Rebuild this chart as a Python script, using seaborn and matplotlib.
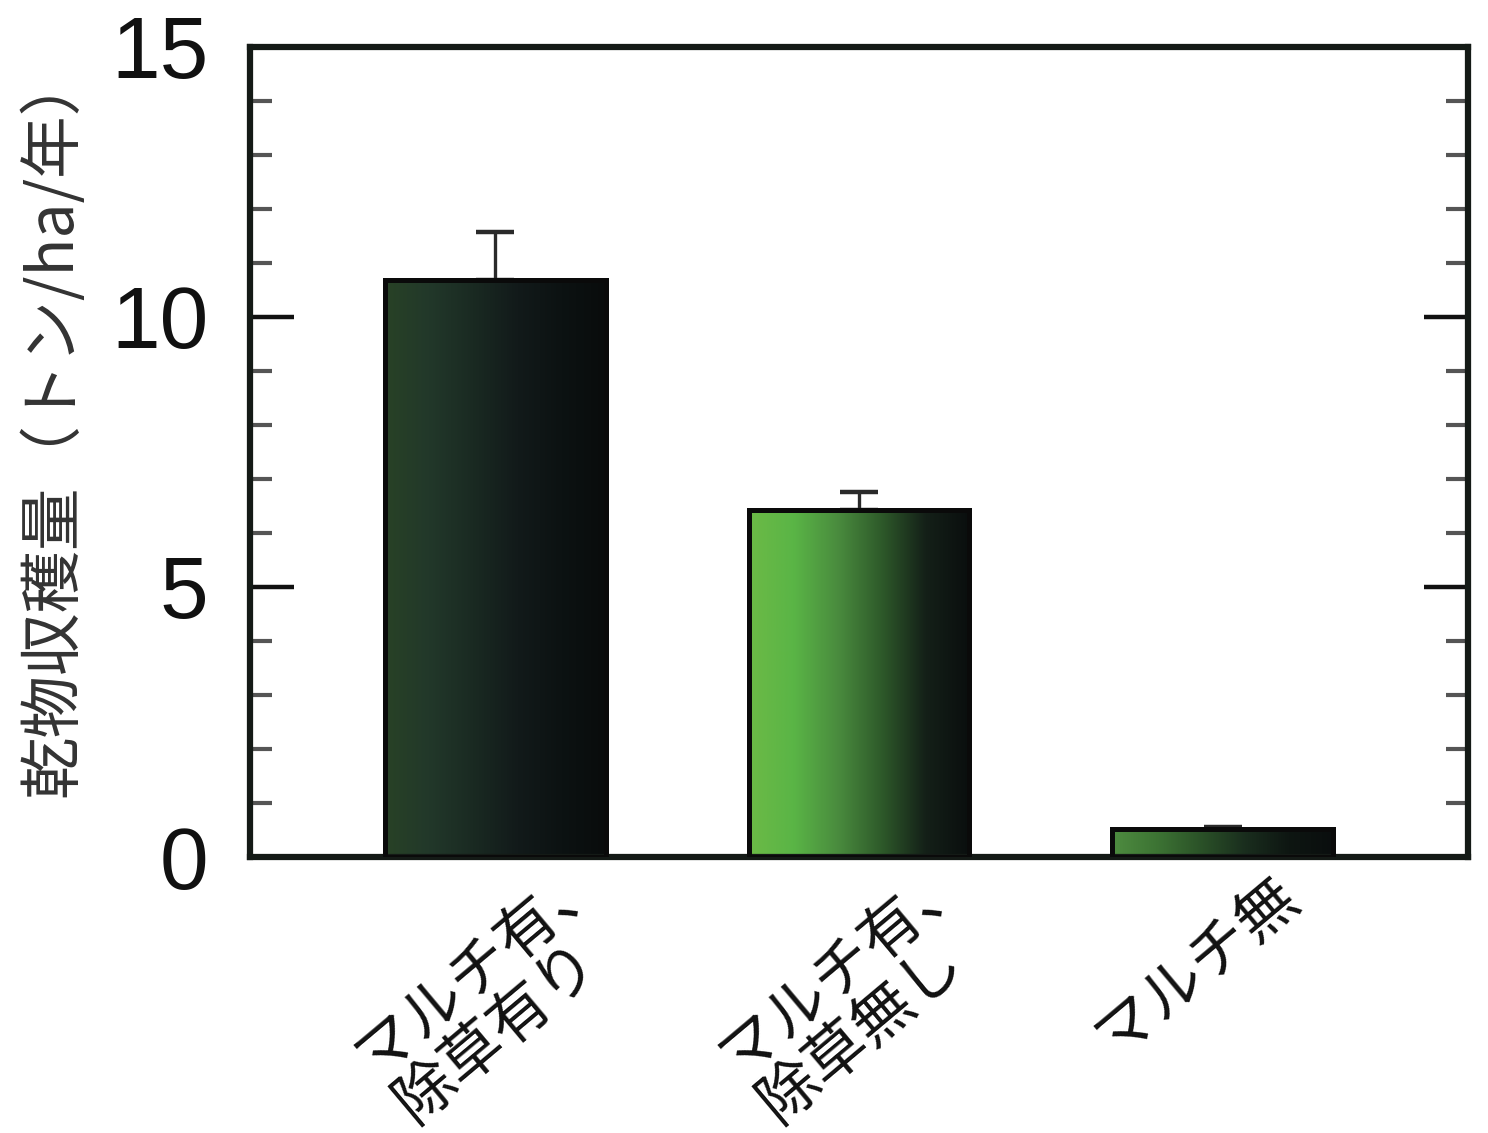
import numpy as np
import pandas as pd
import matplotlib
matplotlib.use("Agg")
import matplotlib.pyplot as plt
from matplotlib.colors import LinearSegmentedColormap
from matplotlib.ticker import MultipleLocator
import matplotlib.transforms as mtransforms
import seaborn as sns

# Dry-matter yield per treatment (t/ha/yr), with upper error bars
treatments = ["マルチ有、\n除草有り", "マルチ有、\n除草無し", "マルチ無"]
dry_yield = [10.68, 6.43, 0.52]
yield_se = [0.90, 0.33, 0.03]

# Horizontal shading of each bar, left edge -> right edge
bar_shades = [
    ["#284226", "#22382a", "#1a2a22", "#121a1a", "#0c1212", "#090c0c"],
    ["#6cba46", "#5ab546", "#4a8c3e", "#2e5a2a", "#142018", "#0a0e0e"],
    ["#4e8c40", "#3d7434", "#2b5228", "#1a2e1e", "#0e1612", "#0a0e0e"],
]

y_ticks = [0, 5, 10, 15]
y_label = "乾物収穫量（トン/ha/年）"

sns.set_theme(style="white")
plt.rcParams["font.family"] = ["Noto Sans CJK JP", "DejaVu Sans"]

fig = plt.figure(figsize=(14.88, 11.33), dpi=100)
ax = fig.add_axes([0.168, 0.2436, 0.8186, 0.715])

df = pd.DataFrame({"treatment": treatments, "yield": dry_yield})
sns.barplot(data=df, x="treatment", y="yield", order=treatments,
            errorbar=None, width=0.606, color="white",
            edgecolor="#0a0a0a", linewidth=3.6, ax=ax, zorder=3)

# upper-only error bars
ax.errorbar(np.arange(len(treatments)), dry_yield,
            yerr=[np.zeros(len(yield_se)), yield_se],
            fmt="none", ecolor="#2a2a2a", elinewidth=2.4,
            capsize=14, capthick=3.2, zorder=2)

# gradient fill clipped to each bar
grad = np.linspace(0, 1, 256).reshape(1, -1)
for patch, shades in zip(ax.patches, bar_shades):
    cmap = LinearSegmentedColormap.from_list("bar", shades)
    x0, y0 = patch.get_x(), patch.get_y()
    w, h = patch.get_width(), patch.get_height()
    im = ax.imshow(grad, cmap=cmap, extent=[x0, x0 + w, y0, y0 + h],
                   aspect="auto", origin="lower", zorder=2.5,
                   interpolation="bicubic")
    im.set_clip_path(patch)
    patch.set_facecolor("none")

ax.set_xlim(-0.675, 2.675)
ax.set_ylim(0, 15)
ax.set_aspect("auto")

# y axis: major + minor ticks inward on both sides
ax.set_yticks(y_ticks)
ax.yaxis.set_minor_locator(MultipleLocator(1))
ax.tick_params(axis="y", which="major", direction="in", length=32, width=3.2,
               color="#111111", left=True, right=True, pad=30, labelsize=63,
               labelcolor="#111111")
ax.tick_params(axis="y", which="minor", direction="in", length=16, width=3.0,
               color="#555555", left=True, right=True)
for lab in ax.get_yticklabels():
    lab.set_fontfamily(["Liberation Sans", "DejaVu Sans"])

# x axis: rotated category labels, no tick marks
ax.tick_params(axis="x", length=0, pad=8)
ax.set_xticks(range(len(treatments)))
ax.set_xticklabels(treatments, rotation=40, ha="right", va="top",
                   rotation_mode="anchor", fontsize=44, color="#111111",
                   linespacing=0.98)
label_shift = [(82, 25), (82, 25), (48, 4)]  # pixel nudges per label
for lab, (dx, dy) in zip(ax.get_xticklabels(), label_shift):
    lab.set_multialignment("left")
    lab.set_transform(lab.get_transform() +
                      mtransforms.Affine2D().translate(dx, dy))
ax.set_xlabel("")

ax.set_ylabel(y_label, fontsize=45, color="#333333")
ax.yaxis.set_label_coords(-0.135, 0.535)

for side in ["left", "right", "top", "bottom"]:
    ax.spines[side].set_visible(True)
    ax.spines[side].set_linewidth(4.5)
    ax.spines[side].set_color("#141a16")

fig.savefig("out.png", dpi=100, facecolor="white")
